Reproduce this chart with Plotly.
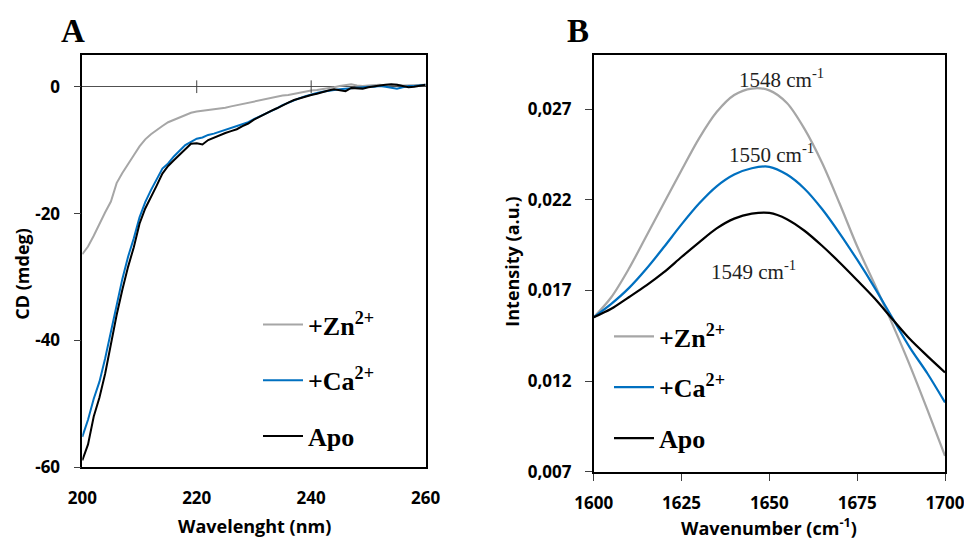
import plotly.graph_objects as go

# ---------------- data ----------------
wavelength = list(range(200, 261))
cd_zn = [-26.4, -25.2, -23.5, -21.6, -19.8, -18.1, -15.2, -13.6, -12.3, -10.8,
         -9.4, -8.3, -7.5, -6.8, -6.2, -5.6, -5.2, -4.8, -4.5, -4.1,
         -3.9, -3.8, -3.7, -3.6, -3.4, -3.3, -3.1, -2.9, -2.7, -2.5,
         -2.3, -2.1, -1.9, -1.8, -1.6, -1.4, -1.3, -1.1, -0.9, -0.8,
         -0.6, -0.5, -0.4, -0.3, -0.1, 0.1, 0.3, 0.4, 0.2, 0.1,
         0.2, 0.3, 0.3, 0.2, 0.3, 0.3, 0.2, 0.2, 0.3, 0.2, 0.3]
cd_ca = [-55.2, -52.5, -49.2, -46.5, -42.8, -38.6, -34.0, -30.3, -26.8, -23.9,
         -20.6, -18.2, -16.3, -14.5, -12.9, -12.1, -11.0, -10.1, -9.2, -8.7,
         -8.2, -8.0, -7.6, -7.4, -7.1, -6.9, -6.6, -6.3, -6.0, -5.6,
         -5.1, -4.7, -4.3, -3.9, -3.4, -2.9, -2.5, -2.1, -1.8, -1.5,
         -1.2, -1.0, -0.8, -0.6, -0.5, -0.4, -0.3, -0.2, -0.1, -0.1,
         0.0, 0.0, 0.1, 0.0, -0.2, -0.3, -0.1, 0.1, 0.1, 0.2, 0.3]
cd_apo = [-58.9, -56.4, -52.0, -49.0, -45.2, -40.3, -36.0, -32.0, -28.4, -25.3,
          -21.6, -19.2, -17.5, -15.6, -13.7, -12.5, -11.6, -10.7, -9.8, -9.0,
          -8.9, -9.1, -8.4, -8.0, -7.6, -7.3, -7.0, -6.7, -6.2, -5.8,
          -5.2, -4.7, -4.3, -3.8, -3.4, -2.9, -2.5, -2.1, -1.8, -1.5,
          -1.3, -1.1, -0.8, -0.6, -0.4, -0.6, -0.7, -0.2, -0.3, -0.3,
          -0.1, 0.1, 0.2, 0.3, 0.4, 0.3, 0.1, -0.1, 0.0, 0.1, 0.3]

wavenumber = list(range(1600, 1701, 5))
ir_zn = [0.01552, 0.01663, 0.01820, 0.02001, 0.02183, 0.02364, 0.02540, 0.02685,
         0.02779, 0.02815, 0.02805, 0.02735, 0.02592, 0.02405, 0.02180, 0.01944,
         0.01733, 0.01516, 0.01287, 0.01041, 0.00787]
ir_ca = [0.01552, 0.01626, 0.01713, 0.01820, 0.01940, 0.02065, 0.02180, 0.02275,
         0.02340, 0.02375, 0.02383, 0.02340, 0.02262, 0.02150, 0.02016, 0.01870,
         0.01715, 0.01549, 0.01385, 0.01242, 0.01082]
ir_apo = [0.01552, 0.01599, 0.01663, 0.01728, 0.01801, 0.01885, 0.01966, 0.02043,
          0.02097, 0.02124, 0.02128, 0.02094, 0.02030, 0.01947, 0.01855, 0.01757,
          0.01656, 0.01543, 0.01432, 0.01338, 0.01248]

series_names = ["+Zn<sup>2+</sup>", "+Ca<sup>2+</sup>", "Apo"]
series_colors = ["#A6A6A6", "#0070C0", "#000000"]

cd_xticks = [200, 220, 240, 260]
cd_yticks = [-60, -40, -20, 0]
cd_yticklabels = ["-60", "-40", "-20", "0"]
ir_xticks = [1600, 1625, 1650, 1675, 1700]
ir_yticks = [0.007, 0.012, 0.017, 0.022, 0.027]
ir_yticklabels = ["0,007", "0,012", "0,017", "0,022", "0,027"]

peak_labels = ["1548 cm<sup>-1</sup>", "1550 cm<sup>-1</sup>", "1549 cm<sup>-1</sup>"]
peak_x = [1653.5, 1650.5, 1645.5]
peak_y = [0.02873, 0.02457, 0.01811]

# ---------------- figure ----------------
W, H = 964, 540
fig = go.Figure()

cd_series = [cd_zn, cd_ca, cd_apo]
ir_series = [ir_zn, ir_ca, ir_apo]
for i in range(3):
    fig.add_trace(go.Scatter(
        x=wavelength, y=cd_series[i], mode="lines", name=series_names[i],
        line=dict(color=series_colors[i], width=2),
        xaxis="x", yaxis="y", legend="legend", legendgroup="a%d" % i))
for i in range(3):
    fig.add_trace(go.Scatter(
        x=wavenumber, y=ir_series[i], mode="lines", name=series_names[i],
        line=dict(color=series_colors[i], width=2.25, shape="spline", smoothing=0.9),
        xaxis="x2", yaxis="y2", legend="legend2", legendgroup="b%d" % i))

tick_font = dict(family="Open Sans", size=17, color="#000000", weight="bold")
title_font = dict(family="Open Sans", size=18, color="#000000", weight="bold")
serif_bold = dict(family="Liberation Serif", size=26, color="#000000", weight="bold")

axis_common = dict(showline=True, mirror=True, linecolor="#000000", linewidth=1.6,
                   showgrid=False, tickfont=tick_font, tickcolor="#404040",
                   automargin=False, ticklabeloverflow="allow")

fig.update_layout(
    width=W, height=H,
    margin=dict(l=0, r=0, t=0, b=0, autoexpand=False),
    paper_bgcolor="white", plot_bgcolor="white",
    showlegend=True,
    xaxis=dict(domain=[82.3 / W, 425.6 / W], range=[200, 260], tickvals=cd_xticks,
               ticks="", ticklabelstandoff=14, zeroline=False, anchor="y", **axis_common),
    yaxis=dict(domain=[1 - 467.3 / H, 1 - 55 / H], range=[-60, 5], tickvals=cd_yticks,
               ticktext=cd_yticklabels,
               ticks="outside", ticklen=7, ticklabelstandoff=10,
               zeroline=True, zerolinecolor="#505050", zerolinewidth=1,
               anchor="x", **axis_common),
    xaxis2=dict(domain=[593.7 / W, 945 / W], range=[1600, 1700], tickvals=ir_xticks,
                tickformat="d", ticks="outside", ticklen=7, ticklabelstandoff=8,
                zeroline=False, anchor="y2", **axis_common),
    yaxis2=dict(domain=[1 - 471.7 / H, 1 - 55 / H], range=[0.007, 0.030], tickvals=ir_yticks,
                ticktext=ir_yticklabels,
                ticks="outside", ticklen=7, ticklabelstandoff=10,
                zeroline=False, anchor="x2", **axis_common),
    legend=dict(x=258 / W, y=1 - 301 / H, xanchor="left", yanchor="top",
                bgcolor="rgba(0,0,0,0)", font=serif_bold, tracegroupgap=19,
                itemwidth=40),
    legend2=dict(x=609 / W, y=1 - 313 / H, xanchor="left", yanchor="top",
                 bgcolor="rgba(0,0,0,0)", font=serif_bold, tracegroupgap=14,
                 itemwidth=40),
)

# tick marks crossing the zero line of panel A
shapes = []
for t in cd_xticks[1:-1]:
    shapes.append(dict(type="line", xref="x", yref="y", x0=t, x1=t, y0=-1.0, y1=1.0,
                       line=dict(color="#404040", width=1)))
fig.update_layout(shapes=shapes)

annotations = []
for lab, px, py in zip(peak_labels, peak_x, peak_y):
    annotations.append(dict(x=px, y=py, xref="x2", yref="y2", text=lab, showarrow=False,
                            xanchor="center", yanchor="middle",
                            font=dict(family="Liberation Serif", size=21, color="#222222")))
annotations += [
    dict(x=72.5 / W, y=1 - 31 / H, xref="paper", yref="paper", text="A", showarrow=False,
         xanchor="center", yanchor="middle",
         font=dict(family="Liberation Serif", size=33, color="#000000", weight="bold")),
    dict(x=578.3 / W, y=1 - 31 / H, xref="paper", yref="paper", text="B", showarrow=False,
         xanchor="center", yanchor="middle",
         font=dict(family="Liberation Serif", size=33, color="#000000", weight="bold")),
    dict(x=21.7 / W, y=1 - 274 / H, xref="paper", yref="paper", text="CD (mdeg)",
         showarrow=False, textangle=-90, xanchor="center", yanchor="middle", font=title_font),
    dict(x=511.7 / W, y=1 - 262 / H, xref="paper", yref="paper", text="Intensity (a.u.)",
         showarrow=False, textangle=-90, xanchor="center", yanchor="middle", font=title_font),
    dict(x=254 / W, y=1 - 526 / H, xref="paper", yref="paper", text="Wavelenght (nm)",
         showarrow=False, xanchor="center", yanchor="middle", font=title_font),
    dict(x=769 / W, y=1 - 527 / H, xref="paper", yref="paper", text="Wavenumber (cm<sup>-1</sup>)",
         showarrow=False, xanchor="center", yanchor="middle", font=title_font),
]
fig.update_layout(annotations=annotations)

fig.write_html("out.html", config={"displayModeBar": False},
               post_script="document.body.style.margin='0px';document.body.style.overflow='hidden';")
